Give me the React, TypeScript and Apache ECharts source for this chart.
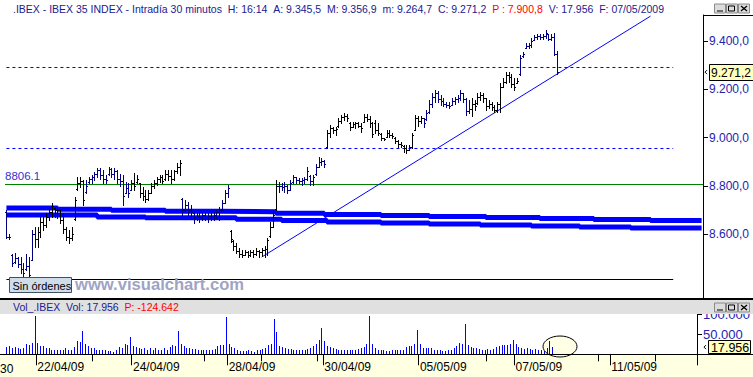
import React, { useEffect, useRef } from "react";
import * as echarts from "echarts";

const FONT = '"Liberation Sans", Arial, Helvetica, sans-serif';
const NAVY = "#000080";
const TEXT_NAVY = "#202090";
const LABEL_BLUE = "#2323B0";

// ---- axis / session structure ----
const days = [
  "21/04/09", "22/04/09", "23/04/09", "24/04/09", "27/04/09", "28/04/09", "29/04/09",
  "30/04/09", "04/05/09", "05/05/09", "06/05/09", "07/05/09", "08/05/09", "11/05/09", "12/05/09",
];
const sessionTimes = [
  "09:00", "09:30", "10:00", "10:30", "11:00", "11:30", "12:00", "12:30", "13:00",
  "13:30", "14:00", "14:30", "15:00", "15:30", "16:00", "16:30", "17:00",
];
const firstVisibleSession = 6; // first visible bar of 21/04 is 12:00
const totalSlots = 246;
const labeledDays = ["22/04/09", "24/04/09", "28/04/09", "30/04/09", "05/05/09", "07/05/09", "11/05/09"];
const minorTickSlots = [31, 71, 91, 111, 171, 211, 231];
const navyDays = ["21/04/09", "23/04/09", "27/04/09", "29/04/09", "05/05/09", "07/05/09"];

// ---- price bars (30 min) ----
const opens = [
  8690, 8590, 8515, 8485, 8500, 8475, 8455, 8455, 8470, 8495, 8600,
  8580, 8610, 8650, 8640, 8670, 8690, 8710, 8700, 8700, 8660, 8620, 8590, 8585, 8662, 8786, 8810, 8820,
  8775, 8815, 8830, 8835, 8850, 8865, 8845, 8830, 8848, 8870, 8850, 8860, 8830, 8820, 8772, 8790, 8785,
  8810, 8815, 8810, 8770, 8760, 8745, 8770, 8800, 8810, 8830, 8835, 8828, 8850, 8840, 8830, 8860, 8880,
  8745, 8700, 8720, 8700, 8686, 8670, 8675, 8670, 8680, 8670, 8675, 8670, 8680, 8690, 8700, 8730, 8770,
  8612, 8572, 8550, 8530, 8520, 8515, 8525, 8515, 8525, 8520, 8530, 8525, 8535, 8540, 8592, 8630, 8705,
  8800, 8800, 8795, 8800, 8785, 8815, 8835, 8825, 8820, 8825, 8830, 8842, 8820, 8848, 8880, 8900, 8905,
  8962, 9020, 9040, 9030, 9047, 9070, 9085, 9090, 9062, 9045, 9055, 9060, 9050, 9066, 9085, 9075, 9060,
  9060, 9030, 9017, 9000, 9004, 9020, 9010, 9000, 8985, 8975, 8967, 8955, 8950, 8960, 9033, 9080, 9070,
  9080, 9075, 9104, 9140, 9170, 9185, 9160, 9150, 9140, 9135, 9137, 9150, 9160, 9165, 9185, 9160, 9110,
  9120, 9140, 9142, 9170, 9175, 9162, 9130, 9140, 9125, 9115, 9140, 9210, 9230, 9260, 9250, 9220, 9228,
  9262, 9336, 9373, 9380, 9385, 9406, 9415, 9420, 9415, 9420, 9427, 9410, 9415, 9345.5,
];
const highs = [
  8700, 8600, 8520, 8522, 8505, 8505, 8480, 8520, 8505, 8617, 8630,
  8630, 8671, 8671, 8688, 8700, 8729, 8713, 8707, 8700, 8688, 8630, 8617, 8630, 8754, 8837, 8837, 8825,
  8825, 8837, 8845, 8858, 8874, 8874, 8866, 8845, 8878, 8874, 8874, 8866, 8850, 8845, 8816, 8812, 8825,
  8853, 8845, 8812, 8795, 8783, 8783, 8812, 8825, 8837, 8845, 8845, 8866, 8866, 8866, 8866, 8895, 8907,
  8750, 8742, 8733, 8721, 8688, 8688, 8692, 8688, 8692, 8688, 8688, 8692, 8700, 8713, 8742, 8783, 8804,
  8617, 8576, 8564, 8543, 8535, 8535, 8530, 8535, 8535, 8543, 8535, 8543, 8550, 8584, 8650, 8700, 8825,
  8816, 8812, 8816, 8804, 8825, 8845, 8837, 8833, 8833, 8837, 8878, 8845, 8845, 8890, 8920, 8916, 8907,
  9031, 9052, 9044, 9044, 9081, 9094, 9102, 9098, 9064, 9064, 9064, 9064, 9060, 9098, 9098, 9090, 9064,
  9073, 9060, 9019, 9000, 9031, 9031, 9019, 9002, 8990, 8982, 8969, 8969, 8969, 9019, 9094, 9090, 9090,
  9081, 9115, 9156, 9185, 9197, 9193, 9176, 9164, 9148, 9148, 9164, 9168, 9176, 9197, 9185, 9164, 9156,
  9164, 9156, 9185, 9189, 9185, 9164, 9156, 9148, 9135, 9148, 9226, 9247, 9272, 9272, 9264, 9247, 9247,
  9342, 9354, 9392, 9392, 9412, 9425, 9429, 9429, 9429, 9445, 9429, 9429, 9433, 9356.9,
];
const lows = [
  8585, 8580, 8470, 8482, 8465, 8440, 8425, 8450, 8423, 8493, 8547,
  8547, 8588, 8617, 8630, 8659, 8671, 8671, 8666, 8646, 8605, 8576, 8564, 8576, 8659, 8783, 8795, 8721,
  8770, 8812, 8812, 8825, 8837, 8830, 8812, 8812, 8845, 8837, 8830, 8812, 8800, 8721, 8770, 8754, 8783,
  8783, 8812, 8754, 8742, 8733, 8742, 8770, 8790, 8804, 8816, 8812, 8825, 8825, 8812, 8825, 8853, 8845,
  8680, 8692, 8680, 8671, 8646, 8659, 8650, 8659, 8659, 8650, 8659, 8659, 8667, 8659, 8700, 8729, 8754,
  8568, 8535, 8522, 8505, 8505, 8514, 8505, 8510, 8505, 8514, 8505, 8510, 8505, 8514, 8588, 8630, 8700,
  8775, 8783, 8775, 8770, 8783, 8812, 8812, 8812, 8804, 8812, 8825, 8804, 8804, 8845, 8878, 8887, 8878,
  8957, 9002, 9019, 9010, 9044, 9060, 9073, 9068, 9031, 9044, 9040, 9044, 9023, 9064, 9068, 9044, 9002,
  9019, 9010, 8990, 8990, 9002, 9002, 8998, 8978, 8961, 8961, 8940, 8936, 8948, 8957, 9031, 9048, 9060,
  9044, 9073, 9102, 9127, 9148, 9148, 9135, 9131, 9127, 9123, 9135, 9140, 9148, 9156, 9148, 9094, 9102,
  9090, 9115, 9140, 9156, 9148, 9115, 9123, 9115, 9104, 9106, 9106, 9210, 9226, 9230, 9210, 9197, 9226,
  9259, 9334, 9371, 9371, 9375, 9404, 9408, 9408, 9408, 9412, 9404, 9404, 9340, 9264.7,
];
const closes = [
  8590, 8590, 8480, 8500, 8475, 8455, 8440, 8470, 8430, 8600, 8580,
  8610, 8650, 8640, 8670, 8690, 8715, 8700, 8700, 8660, 8620, 8590, 8585, 8600, 8740, 8810, 8820, 8740,
  8800, 8830, 8835, 8850, 8865, 8845, 8830, 8825, 8870, 8850, 8860, 8830, 8820, 8760, 8790, 8770, 8810,
  8800, 8830, 8770, 8760, 8745, 8770, 8800, 8810, 8830, 8835, 8820, 8850, 8840, 8830, 8860, 8880, 8895,
  8700, 8720, 8700, 8690, 8670, 8675, 8670, 8680, 8670, 8675, 8670, 8680, 8690, 8700, 8730, 8770, 8790,
  8580, 8550, 8530, 8520, 8515, 8525, 8515, 8525, 8520, 8530, 8525, 8535, 8540, 8575, 8630, 8680, 8800,
  8800, 8795, 8800, 8785, 8810, 8835, 8825, 8820, 8825, 8830, 8860, 8820, 8835, 8880, 8900, 8905, 8890,
  9020, 9040, 9030, 9035, 9070, 9085, 9090, 9080, 9045, 9055, 9060, 9050, 9040, 9085, 9075, 9060, 9015,
  9030, 9020, 9000, 8995, 9020, 9010, 9005, 8985, 8975, 8970, 8955, 8950, 8960, 9010, 9080, 9070, 9080,
  9060, 9100, 9140, 9170, 9185, 9160, 9150, 9140, 9135, 9130, 9150, 9160, 9165, 9185, 9160, 9110, 9120,
  9140, 9130, 9170, 9175, 9165, 9130, 9140, 9125, 9115, 9140, 9210, 9230, 9260, 9250, 9220, 9210, 9235,
  9330, 9345, 9380, 9385, 9400, 9415, 9420, 9415, 9420, 9435, 9410, 9415, 9345.5, 9271.2,
];

// ---- volume ----
const volumes = [
  18000, 20000, 17000, 18000, 15000, 13000, 16000, 25000, 24000, 28000, 95000,
  29000, 22000, 22000, 17000, 15000, 11000, 11000, 11000, 11000, 11000, 17000, 11000, 11000, 19000, 33000, 31000, 58000,
  27000, 22000, 17000, 15000, 11000, 11000, 11000, 11000, 8000, 8000, 7000, 11000, 19000, 15000, 27000, 23000, 43000,
  21000, 19000, 15000, 13000, 15000, 12000, 15000, 11000, 15000, 12000, 11000, 15000, 11000, 19000, 23000, 22000, 58000,
  27000, 20000, 17000, 15000, 13000, 13000, 12000, 12000, 11000, 11000, 12000, 11000, 13000, 20000, 23000, 23000, 93000,
  27000, 19000, 17000, 11000, 9000, 9000, 9000, 11000, 9000, 7000, 11000, 11000, 13000, 17000, 23000, 27000, 88000,
  55000, 22000, 19000, 15000, 13000, 13000, 11000, 12000, 11000, 11000, 12000, 13000, 15000, 20000, 25000, 35000, 66000,
  33000, 22000, 19000, 15000, 13000, 12000, 11000, 12000, 11000, 11000, 12000, 11000, 13000, 16000, 19000, 25000, 96000,
  27000, 17000, 12000, 12000, 10000, 8000, 8000, 10000, 10000, 11000, 11000, 12000, 19000, 21000, 21000, 25000, 60000,
  27000, 17000, 17000, 17000, 15000, 12000, 10000, 10000, 8000, 8000, 11000, 12000, 17000, 21000, 29000, 25000, 75000,
  23000, 18000, 17000, 17000, 14000, 12000, 11000, 14000, 12000, 14000, 19000, 21000, 23000, 23000, 23000, 25000, 37000,
  25000, 18000, 17000, 14000, 17000, 14000, 12000, 14000, 12000, 12000, 8000, 17000, 33000, 17956,
];

// ---- scales / levels ----
const priceMin = 8340;
const priceMax = 9507.7;
const priceTicks = [8600, 8800, 9000, 9200, 9400];
const volumeMax = 103250;
const volumeTicks = [50000, 100000];
const pivotLevel = 8806.1;
const upperDashedLevel = 9291;
const lowerDashedLevel = 8956;
const floorLevel = 8414.5;
const levelLineEndSlot = 235;
const trendStart = { slot: 90, value: 8505.6 };
const trendEnd = { slot: 227, value: 9503 };
const channelUpper = [
  [0, 8708.5], [18, 8703], [37, 8699], [56, 8695], [75, 8693], [95, 8687], [112, 8682],
  [132, 8677], [149, 8673], [169, 8669], [188, 8665], [207, 8661], [227, 8657], [245, 8657],
];
const channelLower = [
  [0, 8679.5], [32, 8671], [49, 8668], [81, 8662], [97, 8657], [113, 8650.5], [132, 8646],
  [149, 8642], [167, 8638], [185, 8634], [202, 8630], [220, 8626], [245, 8626],
];
const lastVolume = 17956;

const titleParts = [
  { text: ".IBEX - IBEX 35 INDEX - Intradía 30 minutos", style: "n" },
  { text: "H: 16:14", style: "n" },
  { text: "A: 9.345,5", style: "n" },
  { text: "M: 9.356,9", style: "n" },
  { text: "m: 9.264,7", style: "n" },
  { text: "C: 9.271,2", style: "n" },
  { text: "P : 7.900,8", style: "r" },
  { text: "V: 17.956", style: "n" },
  { text: "F: 07/05/2009", style: "n" },
];
const volumeHeaderParts = [
  { text: "Vol_.IBEX", style: "n" },
  { text: "Vol: 17.956", style: "n" },
  { text: "P: -124.642", style: "r" },
];

// ---- helpers ----
const categories: string[] = [];
days.forEach((d, di) => {
  const start = di === 0 ? firstVisibleSession : 0;
  for (let t = start; t < sessionTimes.length; t++) {
    if (categories.length < totalSlots) categories.push(d + " " + sessionTimes[t]);
  }
});
const dayOf = (i: number) => categories[i].split(" ")[0];
const barColors = closes.map((_, i) => (navyDays.includes(dayOf(i)) ? NAVY : "#000000"));

function groupThousands(s: string) {
  return s.replace(/\B(?=(\d{3})+(?!\d))/g, ".");
}
function fmtPrice(v: number) {
  const [int, dec] = v.toFixed(1).split(".");
  return groupThousands(int) + "," + dec;
}
function fmtVol(v: number) {
  return groupThousands(String(Math.round(v)));
}
function richLine(parts: { text: string; style: string }[]) {
  return parts.map((p) => `{${p.style}|${p.text}}`).join("{n|  }");
}
const richStyles = {
  n: { fill: TEXT_NAVY, font: `10.5px ${FONT}` },
  r: { fill: "#FF0000", font: `10.5px ${FONT}` },
};

function windowButtons(y0: number, z: number) {
  const els: any[] = [];
  const xs = [714, 726, 738];
  xs.forEach((x) => {
    els.push({
      type: "rect", z,
      shape: { x: x + 0.5, y: y0 + 0.5, width: 11, height: 9 },
      style: { fill: "#DCDCDC", stroke: "#8A8A8A", lineWidth: 1 },
    });
  });
  els.push({ type: "line", z: z + 1, shape: { x1: 717, y1: y0 + 7.5, x2: 723, y2: y0 + 7.5 }, style: { stroke: "#000", lineWidth: 1 } });
  els.push({ type: "rect", z: z + 1, shape: { x: 728.5, y: y0 + 2.5, width: 6, height: 5 }, style: { fill: "none", stroke: "#000", lineWidth: 1 } });
  els.push({ type: "line", z: z + 1, shape: { x1: 741, y1: y0 + 2.5, x2: 747, y2: y0 + 7.5 }, style: { stroke: "#000", lineWidth: 1.3 } });
  els.push({ type: "line", z: z + 1, shape: { x1: 747, y1: y0 + 2.5, x2: 741, y2: y0 + 7.5 }, style: { stroke: "#000", lineWidth: 1.3 } });
  return els;
}

function buildGraphics(closeY: number, volY: number, pivotY: number) {
  const g: any[] = [];
  // date strip background
  g.push({ type: "rect", z: 1, shape: { x: 0, y: 355, width: 753, height: 22 }, style: { fill: "#FFFFE1" } });
  g.push({ type: "line", z: 30, shape: { x1: 0, y1: 354.5, x2: 753, y2: 354.5 }, style: { stroke: "#000", lineWidth: 1 } });
  // top strip
  g.push({
    type: "text", z: 30, x: 13, y: 9,
    style: { text: richLine(titleParts), rich: richStyles, font: `10.5px ${FONT}`, verticalAlign: "middle" },
  });
  windowButtons(3.5, 30).forEach((e) => g.push(e));
  g.push({ type: "line", z: 30, shape: { x1: 703, y1: 15.5, x2: 753, y2: 15.5 }, style: { stroke: "#000", lineWidth: 1 } });
  // pane separator + volume header
  g.push({ type: "line", z: 30, shape: { x1: 703.5, y1: 296, x2: 703.5, y2: 299 }, style: { stroke: "#000", lineWidth: 1 } });
  g.push({ type: "rect", z: 30, shape: { x: 0, y: 298, width: 753, height: 2 }, style: { fill: "#000" } });
  g.push({ type: "rect", z: 30, shape: { x: 0, y: 300, width: 753, height: 14 }, style: { fill: "#E0E0E0" } });
  g.push({
    type: "text", z: 31, x: 13, y: 306.5,
    style: { text: richLine(volumeHeaderParts), rich: richStyles, font: `10.5px ${FONT}`, verticalAlign: "middle" },
  });
  windowButtons(302.5, 31).forEach((e) => g.push(e));
  // ellipse around last volume bars
  g.push({
    type: "ellipse", z: 3,
    shape: { cx: 560, cy: 346.5, rx: 17, ry: 10.5 },
    style: { fill: "#FFFFE6", stroke: "#000", lineWidth: 1 },
  });
  // pivot label
  g.push({
    type: "text", z: 30, x: 5, y: pivotY - 8,
    style: { text: "8806.1", fill: "#3535D0", font: `11.5px ${FONT}`, verticalAlign: "middle" },
  });
  // Sin órdenes box + watermark
  g.push({ type: "rect", z: 30, shape: { x: 9.5, y: 277.5, width: 62, height: 15 }, style: { fill: "#CFDCEA", stroke: "#405060", lineWidth: 1 } });
  g.push({ type: "text", z: 31, x: 12.5, y: 285.5, style: { text: "Sin órdenes", fill: "#000", font: `11px ${FONT}`, verticalAlign: "middle" } });
  g.push({ type: "text", z: 29, x: 75, y: 284.5, style: { text: "www.visualchart.com", fill: "#9EA4C6", font: `bold 16.6px ${FONT}`, verticalAlign: "middle" } });
  // close price box
  g.push({ type: "polyline", z: 30, shape: { points: [[707, closeY - 2], [705, closeY], [707, closeY + 2]] }, style: { stroke: "#000", lineWidth: 1, fill: "none" } });
  g.push({ type: "rect", z: 30, shape: { x: 709.5, y: Math.round(closeY) - 7.5, width: 46, height: 16 }, style: { fill: "#FFFFC0", stroke: "#000", lineWidth: 1 } });
  g.push({ type: "text", z: 31, x: 711, y: closeY + 0.5, style: { text: fmtPrice(closes[closes.length - 1]), fill: "#000", font: `12px ${FONT}`, verticalAlign: "middle" } });
  // last volume box
  g.push({ type: "polyline", z: 30, shape: { points: [[706, volY - 2], [704, volY], [706, volY + 2]] }, style: { stroke: "#000", lineWidth: 1, fill: "none" } });
  g.push({ type: "rect", z: 30, shape: { x: 708.5, y: Math.round(volY) - 6.5, width: 42, height: 13 }, style: { fill: "#FFFFC0", stroke: "#000", lineWidth: 1 } });
  g.push({ type: "text", z: 31, x: 711, y: volY + 0.5, style: { text: fmtVol(lastVolume), fill: "#000", font: `12.5px ${FONT}`, verticalAlign: "middle" } });
  // leftmost (partial) date label
  g.push({ type: "text", z: 30, x: 0, y: 369, style: { text: "30", fill: "#000", font: `12px ${FONT}`, verticalAlign: "middle" } });
  return g;
}

export default function App() {
  const ref = useRef<HTMLDivElement>(null);
  useEffect(() => {
    if (!ref.current) return;
    const chart = echarts.init(ref.current, null, { renderer: "svg" });

    const ohlc = closes.map((c, i) => [i, opens[i], highs[i], lows[i], c]);
    const vol = volumes.map((v, i) => [i, v]);
    const isMajor = (idx: number) => {
      const c = categories[idx];
      return !!c && c.endsWith(" 09:00") && labeledDays.includes(c.split(" ")[0]);
    };

    const option: any = {
      animation: false,
      backgroundColor: "#FFFFFF",
      textStyle: { fontFamily: FONT },
      grid: [
        { left: 5, right: 50, top: 15, bottom: 80 },
        { left: 5, right: 50, top: 313, bottom: 22.7 },
      ],
      xAxis: [
        { type: "category", gridIndex: 0, data: categories, boundaryGap: true, show: false },
        {
          type: "category", gridIndex: 1, data: categories, boundaryGap: true, position: "bottom", z: 10,
          axisLine: { show: false },
          axisTick: { show: true, interval: (i: number) => isMajor(i), length: 11, lineStyle: { color: "#000", width: 1 } },
          axisLabel: {
            show: true, interval: (i: number) => isMajor(i), formatter: (v: string) => v.split(" ")[0],
            align: "left", color: "#000", fontSize: 12, fontFamily: FONT, margin: 7,
          },
          splitLine: { show: false },
        },
        {
          type: "category", gridIndex: 1, data: categories, boundaryGap: true, position: "bottom", z: 10,
          axisLine: { show: false },
          axisTick: { show: true, interval: (i: number) => minorTickSlots.includes(i), length: 7, lineStyle: { color: "#000", width: 1 } },
          axisLabel: { show: false },
          splitLine: { show: false },
        },
      ],
      yAxis: [
        {
          type: "value", gridIndex: 0, position: "right", min: priceMin, max: priceMax, z: 10,
          splitLine: { show: false },
          axisLine: { show: true, lineStyle: { color: "#000", width: 1 } },
          axisTick: { show: true, length: 5, inside: false, customValues: priceTicks, lineStyle: { color: "#000" } },
          axisLabel: { customValues: priceTicks, formatter: (v: number) => fmtPrice(v), color: LABEL_BLUE, fontSize: 12, fontFamily: FONT, margin: 6 },
        },
        {
          type: "value", gridIndex: 1, position: "right", min: 0, max: volumeMax, z: 10,
          splitLine: { show: false },
          axisLine: { show: true, lineStyle: { color: "#000", width: 1 } },
          axisTick: { show: true, length: 5, inside: false, customValues: volumeTicks, lineStyle: { color: "#000" } },
          axisLabel: { customValues: volumeTicks, formatter: (v: number) => fmtVol(v), color: LABEL_BLUE, fontSize: 13, fontFamily: FONT, margin: 6 },
        },
      ],
      series: [
        {
          type: "line", name: "channelUpper", xAxisIndex: 0, yAxisIndex: 0, z: 4,
          data: channelUpper.map(([s, v]) => [categories[s], v]),
          step: "end", symbol: "none", lineStyle: { color: "#0000FF", width: 5 },
        },
        {
          type: "line", name: "channelLower", xAxisIndex: 0, yAxisIndex: 0, z: 4,
          data: channelLower.map(([s, v]) => [categories[s], v]),
          step: "end", symbol: "none", lineStyle: { color: "#0000FF", width: 5 },
        },
        {
          type: "custom", name: "IBEX", xAxisIndex: 0, yAxisIndex: 0, z: 6,
          data: ohlc,
          encode: { x: 0, y: [1, 2, 3, 4] },
          renderItem: (params: any, api: any) => {
            const idx = api.value(0);
            const pO = api.coord([idx, api.value(1)]);
            const pH = api.coord([idx, api.value(2)]);
            const pL = api.coord([idx, api.value(3)]);
            const pC = api.coord([idx, api.value(4)]);
            const x = Math.round(pH[0]) + 0.5;
            const yO = Math.round(pO[1]) + 0.5;
            const yC = Math.round(pC[1]) + 0.5;
            const st = { stroke: barColors[params.dataIndex], lineWidth: 1 };
            return {
              type: "group",
              children: [
                { type: "line", shape: { x1: x, y1: Math.round(pH[1]), x2: x, y2: Math.round(pL[1]) + 1 }, style: st },
                { type: "line", shape: { x1: x - 1.5, y1: yO, x2: x - 0.5, y2: yO }, style: st },
                { type: "line", shape: { x1: x + 0.5, y1: yC, x2: x + 1.5, y2: yC }, style: st },
              ],
            };
          },
          markLine: {
            silent: true, symbol: ["none", "none"], label: { show: false }, z: 5,
            data: [
              { yAxis: pivotLevel, lineStyle: { color: "#008000", width: 1, type: "solid" } },
              [
                { coord: [categories[0], upperDashedLevel], lineStyle: { color: "#0000FF", width: 1, type: [3, 3] } },
                { coord: [categories[levelLineEndSlot], upperDashedLevel] },
              ],
              [
                { coord: [categories[0], lowerDashedLevel], lineStyle: { color: "#0000FF", width: 1, type: [3, 3] } },
                { coord: [categories[levelLineEndSlot], lowerDashedLevel] },
              ],
              [
                { coord: [categories[0], floorLevel], lineStyle: { color: "#000000", width: 1, type: "solid" } },
                { coord: [categories[levelLineEndSlot], floorLevel] },
              ],
              [
                { coord: [categories[trendStart.slot], trendStart.value], lineStyle: { color: "#0000FF", width: 1, type: "solid" } },
                { coord: [categories[trendEnd.slot], trendEnd.value] },
              ],
            ],
          },
        },
        {
          type: "custom", name: "Vol", xAxisIndex: 1, yAxisIndex: 1, z: 6,
          data: vol,
          encode: { x: 0, y: 1 },
          renderItem: (_p: any, api: any) => {
            const idx = api.value(0);
            const top = api.coord([idx, api.value(1)]);
            const base = api.coord([idx, 0]);
            const x = Math.round(top[0]);
            const y = Math.round(top[1]);
            return {
              type: "rect",
              shape: { x, y, width: 1, height: Math.round(base[1]) - y },
              style: { fill: "#0000FF" },
            };
          },
        },
      ],
    };

    chart.setOption(option);
    const closeY = chart.convertToPixel({ yAxisIndex: 0 } as any, closes[closes.length - 1]) as unknown as number;
    const volY = chart.convertToPixel({ yAxisIndex: 1 } as any, lastVolume) as unknown as number;
    const pivotY = chart.convertToPixel({ yAxisIndex: 0 } as any, pivotLevel) as unknown as number;
    chart.setOption({ graphic: { elements: buildGraphics(closeY, volY, pivotY) } });

    return () => chart.dispose();
  }, []);

  return (
    <div
      ref={ref}
      style={{ position: "fixed", left: 0, top: 0, width: 753, height: 377, background: "#fff" }}
    />
  );
}
